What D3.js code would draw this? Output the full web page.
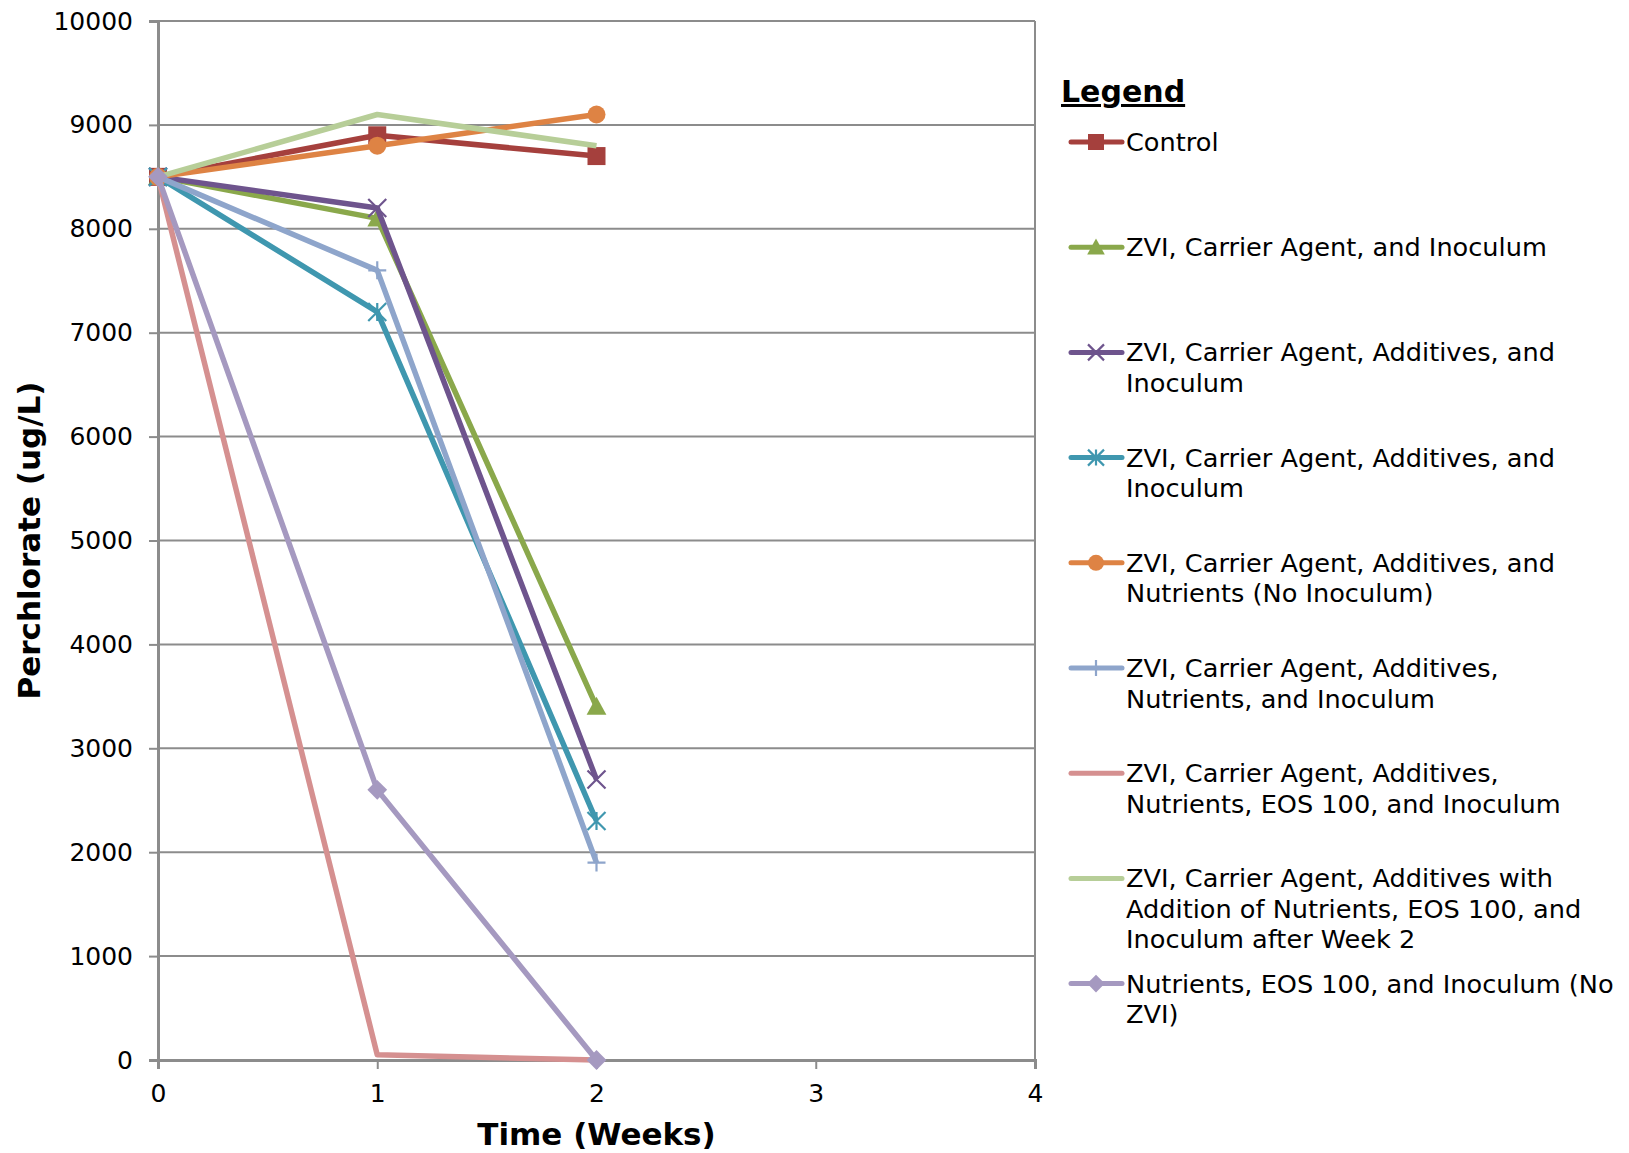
<!DOCTYPE html>
<html>
<head>
<meta charset="utf-8">
<script src="https://cdn.jsdelivr.net/npm/d3@7"></script>
<style>
  body { margin: 0; background: #fff; }
  svg { display: block; }
</style>
</head>
<body>
<div id="chart"></div>
<script>
// perchlorate vs time, one line per treatment

const WEEKS = [0, 1, 2];
const X_TICKS = [0, 1, 2, 3, 4];
const Y_TICKS = [0, 1000, 2000, 3000, 4000, 5000, 6000, 7000, 8000, 9000, 10000];

const SERIES_NAMES = [
  "Control",
  "ZVI, Carrier Agent, and Inoculum",
  "ZVI, Carrier Agent, Additives, and Inoculum",
  "ZVI, Carrier Agent, Additives, and Inoculum",
  "ZVI, Carrier Agent, Additives, and Nutrients (No Inoculum)",
  "ZVI, Carrier Agent, Additives, Nutrients, and Inoculum",
  "ZVI, Carrier Agent, Additives, Nutrients, EOS 100, and Inoculum",
  "ZVI, Carrier Agent, Additives with Addition of Nutrients, EOS 100, and Inoculum after Week 2",
  "Nutrients, EOS 100, and Inoculum (No ZVI)"
];

// legend wraps as in the original
const LEGEND_LINES = [
  ["Control"],
  ["ZVI, Carrier Agent, and Inoculum"],
  ["ZVI, Carrier Agent, Additives, and", "Inoculum"],
  ["ZVI, Carrier Agent, Additives, and", "Inoculum"],
  ["ZVI, Carrier Agent, Additives, and", "Nutrients (No Inoculum)"],
  ["ZVI, Carrier Agent, Additives,", "Nutrients, and Inoculum"],
  ["ZVI, Carrier Agent, Additives,", "Nutrients, EOS 100, and Inoculum"],
  ["ZVI, Carrier Agent, Additives with", "Addition of Nutrients, EOS 100, and", "Inoculum after Week 2"],
  ["Nutrients, EOS 100, and Inoculum (No", "ZVI)"]
];

const CONTROL     = [8500, 8900, 8700];
const ZVI_CA_INOC = [8500, 8100, 3400];
const ZVI_ADD_A   = [8500, 8200, 2700];
const ZVI_ADD_B   = [8500, 7200, 2300];
const ZVI_NUT_NOI = [8500, 8800, 9100];
const ZVI_NUT_INO = [8500, 7600, 1900];
const ZVI_EOS     = [8500, 50, 0];
const ZVI_LATE    = [8500, 9100, 8800];
const NO_ZVI      = [8500, 2600, 0];

const VALUES = [CONTROL, ZVI_CA_INOC, ZVI_ADD_A, ZVI_ADD_B, ZVI_NUT_NOI, ZVI_NUT_INO, ZVI_EOS, ZVI_LATE, NO_ZVI];
const COLORS = ["#A5403D", "#8AA84B", "#6E548D", "#3F97AF", "#DE8344", "#8EA5CB", "#D59090", "#B7CE98", "#A599C0"];
const MARKERS = ["square", "triangle", "x", "star", "circle", "plus", null, null, "diamond"];

const W = 1629, H = 1153;
const margin = { top: 21, right: 594, bottom: 93, left: 158 };
const FONT = "'DejaVu Sans', Verdana, sans-serif";

const svg = d3.select("#chart").append("svg")
  .attr("width", W)
  .attr("height", H);

const x = d3.scaleLinear().domain([0, 4]).range([margin.left, W - margin.right]);
const y = d3.scaleLinear().domain([0, 10000]).range([H - margin.bottom, margin.top]);

// gridlines
svg.append("g")
  .selectAll("line")
  .data(Y_TICKS.filter(d => d > 0))
  .enter()
  .append("line")
  .attr("x1", x(0)).attr("x2", x(4))
  .attr("y1", d => y(d)).attr("y2", d => y(d))
  .attr("stroke", "#8c8c8c")
  .attr("stroke-width", 2);

// right border
svg.append("line")
  .attr("x1", x(4)).attr("x2", x(4))
  .attr("y1", y(0)).attr("y2", y(10000))
  .attr("stroke", "#8c8c8c")
  .attr("stroke-width", 2);

// y axis
const yAxis = svg.append("g")
  .attr("transform", `translate(${x(0)},0)`)
  .call(d3.axisLeft(y).tickValues(Y_TICKS).tickSize(9).tickPadding(16).tickFormat(d3.format("d")));
yAxis.select(".domain").attr("stroke", "#8c8c8c").attr("stroke-width", 3);
yAxis.selectAll(".tick line").attr("stroke", "#8c8c8c").attr("stroke-width", 2);
yAxis.selectAll("text")
  .attr("font-family", FONT)
  .attr("font-size", "25px")
  .attr("fill", "#000");

// x axis
const xAxis = svg.append("g")
  .attr("transform", `translate(0,${y(0)})`)
  .call(d3.axisBottom(x).tickValues(X_TICKS).tickSize(9).tickPadding(15).tickFormat(d3.format("d")));
xAxis.select(".domain").attr("stroke", "#8c8c8c").attr("stroke-width", 3);
xAxis.selectAll(".tick line").attr("stroke", "#8c8c8c").attr("stroke-width", 2);
xAxis.selectAll("text")
  .attr("font-family", FONT)
  .attr("font-size", "25px")
  .attr("fill", "#000");

// axis titles
svg.append("text")
  .attr("transform", `translate(40,${(y(0) + y(10000)) / 2}) rotate(-90)`)
  .attr("text-anchor", "middle")
  .attr("font-family", FONT)
  .attr("font-weight", "bold")
  .attr("font-size", "31px")
  .text("Perchlorate (ug/L)");

svg.append("text")
  .attr("x", x(2))
  .attr("y", 1145)
  .attr("text-anchor", "middle")
  .attr("font-family", FONT)
  .attr("font-weight", "bold")
  .attr("font-size", "31px")
  .text("Time (Weeks)");

// marker drawing
function drawMarker(g, type, color, size) {
  const s = size;
  if (type === "square") {
    g.append("rect").attr("x", -s / 2).attr("y", -s / 2).attr("width", s).attr("height", s).attr("fill", color);
  } else if (type === "circle") {
    g.append("circle").attr("r", s / 2).attr("fill", color);
  } else if (type === "triangle") {
    g.append("path").attr("d", `M0,${-s * 0.55}L${s * 0.55},${s * 0.45}L${-s * 0.55},${s * 0.45}Z`).attr("fill", color);
  } else if (type === "diamond") {
    g.append("path").attr("d", `M0,${-s * 0.55}L${s * 0.55},0L0,${s * 0.55}L${-s * 0.55},0Z`).attr("fill", color);
  } else if (type === "x") {
    const h = s / 2;
    g.append("path").attr("d", `M${-h},${-h}L${h},${h}M${-h},${h}L${h},${-h}`)
      .attr("stroke", color).attr("stroke-width", 2.2).attr("fill", "none");
  } else if (type === "star") {
    const h = s / 2;
    g.append("path").attr("d", `M${-h},${-h}L${h},${h}M${-h},${h}L${h},${-h}M0,${-h}L0,${h}`)
      .attr("stroke", color).attr("stroke-width", 2.2).attr("fill", "none");
  } else if (type === "plus") {
    const h = s / 2;
    g.append("path").attr("d", `M${-h},0L${h},0M0,${-h}L0,${h}`)
      .attr("stroke", color).attr("stroke-width", 2.2).attr("fill", "none");
  }
}

const line = d3.line()
  .x((d, i) => x(WEEKS[i]))
  .y(d => y(d));

// series lines and markers
VALUES.forEach((vals, si) => {
  const g = svg.append("g").attr("class", "series");
  g.append("path")
    .datum(vals)
    .attr("d", line)
    .attr("fill", "none")
    .attr("stroke", COLORS[si])
    .attr("stroke-width", 5.5)
    .attr("stroke-linejoin", "round");

  if (MARKERS[si]) {
    vals.forEach((v, i) => {
      const m = g.append("g").attr("transform", `translate(${x(WEEKS[i])},${y(v)})`);
      drawMarker(m, MARKERS[si], COLORS[si], 18);
    });
  }
});

// legend
const lg = svg.append("g").attr("transform", "translate(1061,0)");
lg.append("text")
  .attr("x", 0)
  .attr("y", 102)
  .attr("font-family", FONT)
  .attr("font-weight", "bold")
  .attr("font-size", "30px")
  .attr("text-decoration", "underline")
  .text("Legend");

const LEGEND_Y0 = 142, LEGEND_STEP = 105.2;
LEGEND_LINES.forEach((lines, i) => {
  const cy = LEGEND_Y0 + i * LEGEND_STEP;
  const item = lg.append("g").attr("transform", `translate(0,${cy})`);
  item.append("line")
    .attr("x1", 10).attr("x2", 61)
    .attr("y1", 0).attr("y2", 0)
    .attr("stroke", COLORS[i])
    .attr("stroke-width", 5)
    .attr("stroke-linecap", "round");
  if (MARKERS[i]) {
    const m = item.append("g").attr("transform", "translate(35,0)");
    drawMarker(m, MARKERS[i], COLORS[i], 16);
  }
  const t = item.append("text")
    .attr("font-family", FONT)
    .attr("font-size", "25.6px")
    .attr("fill", "#000");
  lines.forEach((l, j) => {
    t.append("tspan")
      .attr("x", 65)
      .attr("y", 9 + j * 30.5)
      .text(l);
  });
});
</script>
</body>
</html>
